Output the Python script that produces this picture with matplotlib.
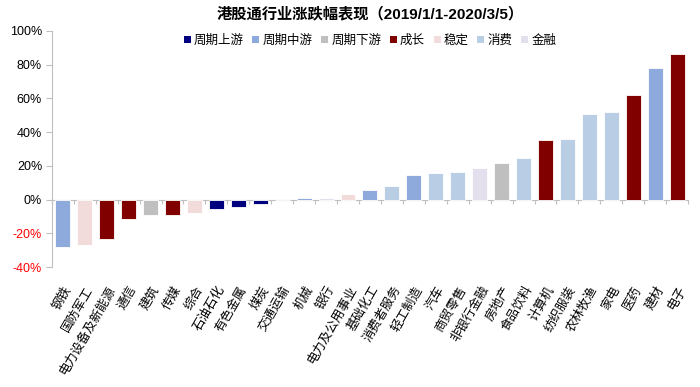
import matplotlib

matplotlib.use("Agg")
import matplotlib.pyplot as plt
from matplotlib.patches import Patch
from matplotlib.ticker import FuncFormatter, MultipleLocator

plt.rcParams["font.family"] = ["Noto Sans CJK SC", "DejaVu Sans"]

industries = [
    "钢铁", "国防军工", "电力设备及新能源", "通信", "建筑", "传媒", "综合",
    "石油石化", "有色金属", "煤炭", "交通运输", "机械", "银行", "电力及公用事业",
    "基础化工", "消费者服务", "轻工制造", "汽车", "商贸零售", "非银行金融",
    "房地产", "食品饮料", "计算机", "纺织服装", "农林牧渔", "家电", "医药",
    "建材", "电子",
]
returns = [
    -28.0, -27.0, -23.2, -11.3, -9.0, -9.0, -8.2,
    -5.3, -4.4, -2.6, -0.3, 0.8, 0.8, 3.5,
    5.5, 8.0, 14.5, 15.6, 16.6, 18.8,
    21.7, 24.7, 35.2, 36.0, 50.6, 52.2, 62.0,
    78.3, 86.2,
]
groups = [
    "周期中游", "稳定", "成长", "成长", "周期下游", "成长", "稳定",
    "周期上游", "周期上游", "周期上游", "周期下游", "周期中游", "金融", "稳定",
    "周期中游", "消费", "周期中游", "消费", "消费", "金融",
    "周期下游", "消费", "成长", "消费", "消费", "消费", "成长",
    "周期中游", "成长",
]
group_order = ["周期上游", "周期中游", "周期下游", "成长", "稳定", "消费", "金融"]
group_colors = {
    "周期上游": "#00007F",
    "周期中游": "#8EA9DB",
    "周期下游": "#BFBFBF",
    "成长": "#800000",
    "稳定": "#F2DCDB",
    "消费": "#B9CDE5",
    "金融": "#E4DFEC",
}

fig = plt.figure(figsize=(7.0, 3.87), dpi=100)
ax = fig.add_axes([0.074, 0.31, 0.909, 0.61])

x = list(range(len(industries)))
ax.bar(x, returns, width=0.68, color=[group_colors[g] for g in groups],
       edgecolor="white", linewidth=0.6, zorder=2)

ymin, ymax = -40, 100
ax.set_ylim(ymin, ymax)
ax.set_xlim(-0.5, len(industries) - 0.5)
ax.yaxis.set_major_locator(MultipleLocator(20))
ax.yaxis.set_major_formatter(FuncFormatter(lambda v, _: f"{v:.0f}%"))
ax.tick_params(axis="y", direction="out", length=4, color="#BFBFBF", pad=3)
for lab in ax.get_yticklabels():
    lab.set_family(["Liberation Sans", "DejaVu Sans"])
    lab.set_fontsize(9)
fig.canvas.draw()
for lab, val in zip(ax.get_yticklabels(), ax.get_yticks()):
    if val < 0:
        lab.set_color("red")

for side in ["top", "right", "bottom"]:
    ax.spines[side].set_visible(False)
ax.spines["left"].set_color("#BFBFBF")

# category labels below the plot
ax.set_xticks(x)
ax.set_xticklabels(industries, rotation=60, ha="right", va="top",
                   rotation_mode="anchor", fontsize=9)
ax.tick_params(axis="x", length=0, pad=12)

# zero line with category boundary ticks
zero_pos = (0 - ymin) / (ymax - ymin)
sec = ax.secondary_xaxis(zero_pos)
sec.set_xticks([i + 0.5 for i in x[:-1]] + [-0.5, len(industries) - 0.5])
sec.set_xticklabels([])
sec.tick_params(axis="x", direction="out", length=3, color="#BFBFBF")
sec.spines["bottom"].set_color("#BFBFBF")

handles = [Patch(facecolor=group_colors[g], edgecolor="none", label=g) for g in group_order]
ax.legend(handles=handles, loc="upper center", bbox_to_anchor=(0.5, 1.02), ncol=7,
          frameon=False, fontsize=9, handlelength=0.55, handleheight=0.55,
          handletextpad=0.25, columnspacing=0.7, borderaxespad=0.2)

ax.set_title("港股通行业涨跌幅表现（2019/1/1-2020/3/5）", fontsize=11,
             fontweight="bold", family=["Liberation Sans", "Noto Sans CJK SC"], pad=9)

fig.savefig("out.png", dpi=100)
